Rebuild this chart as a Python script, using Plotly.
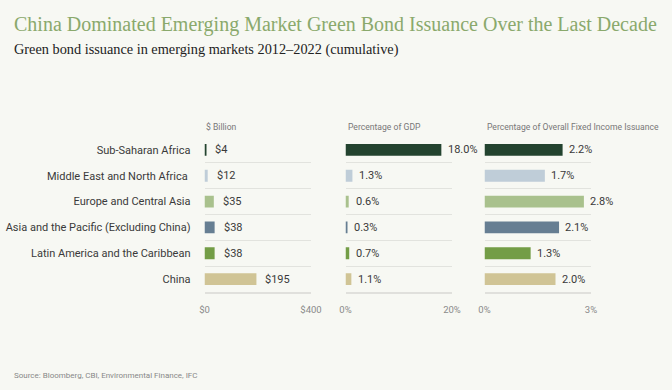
import plotly.graph_objects as go

categories = ["Sub-Saharan Africa", "Middle East and North Africa\u00a0", "Europe and Central Asia",
              "Asia and the Pacific (Excluding China)", "Latin America and the Caribbean", "China"]
billion = [4, 12, 35, 38, 38, 195]
billion_labels = ["$4", "$12", "$35", "$38", "$38", "$195"]
pct_gdp = [18.0, 1.3, 0.6, 0.3, 0.7, 1.1]
pct_gdp_labels = ["18.0%", "1.3%", "0.6%", "0.3%", "0.7%", "1.1%"]
pct_fixed = [2.2, 1.7, 2.8, 2.1, 1.3, 2.0]
pct_fixed_labels = ["2.2%", "1.7%", "2.8%", "2.1%", "1.3%", "2.0%"]
row_colors = ["#23432f", "#bfcdd8", "#a9c18d", "#667e92", "#739d46", "#d0c495"]

panel_titles = ["$ Billion", "Percentage of GDP", "Percentage of Overall Fixed Income Issuance"]
tick_vals = [[0, 400], [0, 20], [0, 3]]
tick_text = [["$0", "$400"], ["0%", "20%"], ["0%", "3%"]]
label_shift = [7, 5, 4]

BG = "#f7f8f3"
SANS = "Roboto, Liberation Sans, sans-serif"
SERIF = "Liberation Serif, DejaVu Serif, serif"

W, H = 672, 390
domains_x = [(204.5 / W, 311 / W), (345.5 / W, 452 / W), (484.5 / W, 591 / W)]
dom_y = ((H - 292) / H, (H - 137) / H)


def sans(size, color):
    return dict(family=SANS, size=size, color=color)


fig = go.Figure()
series = [(billion, billion_labels), (pct_gdp, pct_gdp_labels), (pct_fixed, pct_fixed_labels)]
annotations = []
for i, (vals, labels) in enumerate(series):
    xa = "x" if i == 0 else f"x{i+1}"
    ya = "y" if i == 0 else f"y{i+1}"
    fig.add_trace(go.Bar(
        x=vals, y=categories, orientation="h", xaxis=xa, yaxis=ya,
        marker=dict(color=row_colors, line=dict(width=0)), width=0.46,
        hoverinfo="skip", showlegend=False,
    ))
    for v, lab, c in zip(vals, labels, categories):
        annotations.append(dict(x=v, y=c, xref=xa, yref=ya, text=lab, showarrow=False,
                                xanchor="left", yanchor="middle", xshift=label_shift[i],
                                font=sans(11, "#3a3a3a")))
    annotations.append(dict(x=0, y=dom_y[1], xref=f"{xa} domain", yref="paper", text=panel_titles[i],
                            showarrow=False, xanchor="left", yanchor="bottom", yshift=3, xshift=0,
                            font=sans(8.6, "#777777")))
    axkey = "xaxis" if i == 0 else f"xaxis{i+1}"
    aykey = "yaxis" if i == 0 else f"yaxis{i+1}"
    fig.update_layout(**{
        axkey: dict(domain=domains_x[i], anchor=ya, range=[0, tick_vals[i][1]], automargin=False,
                    tickvals=tick_vals[i], ticktext=tick_text[i], showgrid=False, zeroline=False,
                    showline=True, linecolor="#e0e0dc", linewidth=1.5,
                    ticks="inside", ticklen=5, tickcolor="#e0e0dc", tickwidth=1.5,
                    ticklabelstandoff=8, tickfont=sans(9.5, "#8a8a8a")),
        aykey: dict(domain=dom_y, anchor=xa, type="category", categoryorder="array", automargin=False,
                    categoryarray=categories, autorange="reversed", tickson="boundaries",
                    showgrid=True, gridcolor="#e2e3de", gridwidth=1.2, ticks="",
                    showticklabels=(i == 0), ticklabelstandoff=13, zeroline=False,
                    tickfont=sans(11, "#3a3a3a")),
    })

annotations += [
    dict(x=12 / W, y=1 - 11 / H, xref="paper", yref="paper", text="China Dominated Emerging Market Green Bond Issuance Over the Last Decade",
         showarrow=False, xanchor="left", yanchor="top", font=dict(family=SERIF, size=20, color="#8aa96c")),
    dict(x=12 / W, y=1 - 39 / H, xref="paper", yref="paper", text="Green bond issuance in emerging markets 2012–2022 (cumulative)",
         showarrow=False, xanchor="left", yanchor="top", font=dict(family=SERIF, size=14.3, color="#222222")),
    dict(x=12 / W, y=1 - 369 / H, xref="paper", yref="paper", text="Source: Bloomberg, CBI, Environmental Finance, IFC",
         showarrow=False, xanchor="left", yanchor="top", font=sans(8, "#888888")),
]

fig.update_layout(width=W, height=H, margin=dict(l=0, r=0, t=0, b=0, autoexpand=False),
                  paper_bgcolor=BG, plot_bgcolor=BG, annotations=annotations, bargap=0.5)
fig.write_html("out.html", config={"displayModeBar": False},
               post_script="document.body.style.margin='0';document.body.style.background='#f7f8f3';")
